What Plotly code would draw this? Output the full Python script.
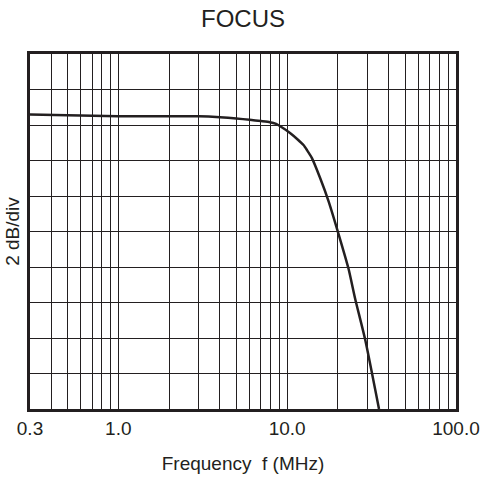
import plotly.graph_objects as go

# Data (frequency in MHz, relative level in dB; 2 dB/div)
freq_mhz = [0.3, 0.5, 1.0, 2.0, 3.0, 4.0, 5.0, 6.0, 7.0, 7.9, 8.6, 9.1, 10.4, 11.5, 12.5,
            13.1, 14.0, 15.7, 17.6, 20.1, 23.1, 25.3, 29.0, 35.0]
level_db = [-3.41, -3.45, -3.50, -3.51, -3.51, -3.56, -3.63, -3.71, -3.78, -3.84, -3.94,
            -4.07, -4.45, -4.80, -5.13, -5.41, -5.85, -7.0, -8.3, -10.1, -12.1, -13.8,
            -16.1, -20.0]

grid_vals = [0.3, 0.4, 0.5, 0.6, 0.7, 0.8, 0.9,
             1, 2, 3, 4, 5, 6, 7, 8, 9,
             10, 20, 30, 40, 50, 60, 70, 80, 90, 100]
labeled = {0.3: "0.3", 1: "1.0", 10: "10.0", 100: "100.0"}
grid_text = [labeled.get(v, "") for v in grid_vals]

y_range = [-20, 0]
y_dtick = 2

W, H = 484, 482

fig = go.Figure()
fig.add_trace(go.Scatter(
    x=freq_mhz, y=level_db, mode="lines",
    line=dict(color="#231f20", width=2.5, shape="spline", smoothing=0.5),
    showlegend=False, hoverinfo="skip"))

fig.update_layout(
    width=W, height=H,
    margin=dict(l=30, r=28, t=54, b=73, autoexpand=False),
    paper_bgcolor="white", plot_bgcolor="white",
    font=dict(family="Liberation Sans, Arial, sans-serif", color="#231f20", size=18),
    title=dict(text="FOCUS", x=0.5, xanchor="center", xref="paper",
               y=1 - 19 / H, yref="container", yanchor="middle",
               font=dict(size=24)),
)
fig.update_xaxes(
    type="log", range=[-0.5228787, 2], automargin=False,
    tickmode="array", tickvals=grid_vals, ticktext=grid_text,
    ticks="", showgrid=True, gridcolor="#231f20", gridwidth=1.4,
    showline=True, linecolor="#231f20", linewidth=2.5, mirror=True,
    zeroline=False, tickfont=dict(size=19),
    title=dict(text="Frequency  f (MHz)", standoff=20, font=dict(size=19)),
)
fig.update_yaxes(
    range=y_range, dtick=y_dtick, tick0=0, showticklabels=False, automargin=False,
    ticks="", showgrid=True, gridcolor="#231f20", gridwidth=1.4,
    showline=True, linecolor="#231f20", linewidth=2.5, mirror=True,
    zeroline=False,
    title=dict(text="2 dB/div", standoff=3, font=dict(size=19)),
)

# Remove the browser's default 8 px body margin so the figure fills the window exactly.
fig.write_html("out.html",
               config={"displayModeBar": False},
               post_script="document.body.style.margin='0';document.body.style.overflow='hidden';")
